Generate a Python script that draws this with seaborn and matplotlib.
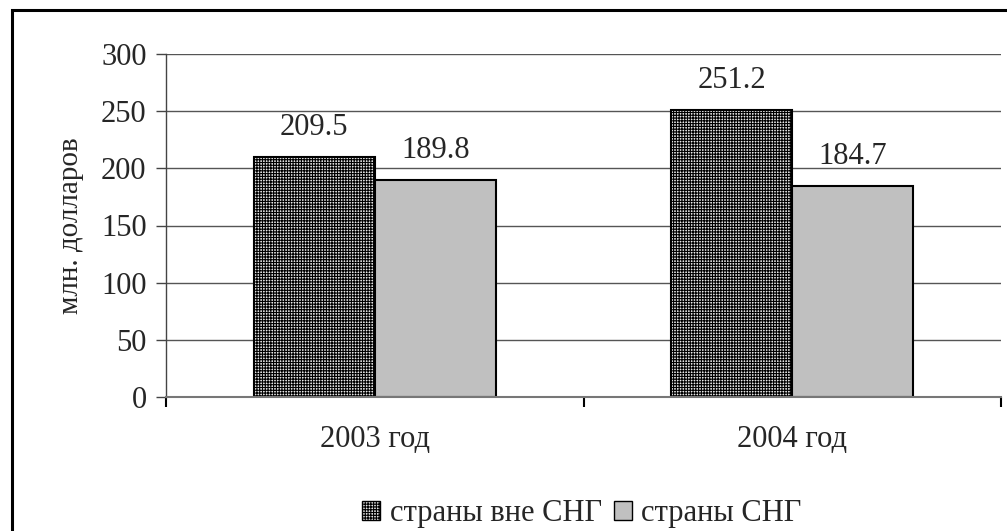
import matplotlib
matplotlib.use("Agg")
import matplotlib.pyplot as plt
import seaborn as sns
import pandas as pd
from matplotlib.patches import Rectangle, Patch

years = ["2003 год", "2004 год"]
series = ["страны вне СНГ", "страны СНГ"]
non_cis = [209.5, 251.2]
cis = [189.8, 184.7]
yticks = [0, 50, 100, 150, 200, 250, 300]

df = pd.DataFrame({
    "year": years * 2,
    "group": [series[0]] * 2 + [series[1]] * 2,
    "value": non_cis + cis,
})

sns.set_theme(style="white")
plt.rcParams['font.family'] = ['Liberation Serif', 'DejaVu Serif']
plt.rcParams['hatch.linewidth'] = 0.8

FS = 22

fig = plt.figure(figsize=(10.07, 5.31), dpi=100)
ax = fig.add_axes([166/1007, 1 - 397/531, (1001 - 166)/1007, (397 - 54)/531])

sns.barplot(data=df, x="year", y="value", hue="group", hue_order=series,
            palette=["white", "#c0c0c0"], width=0.58, saturation=1,
            edgecolor="black", linewidth=1.5, ax=ax, legend=False)

for bar in ax.containers[0]:
    bar.set_hatch("++++++")
    bar.set_facecolor("#e8e8e8")

for cont in ax.containers:
    ax.bar_label(cont, fmt="%.1f", padding=11, fontsize=FS)

ax.set_ylim(0, 300)
ax.set_xlim(-0.5, 1.5)
ax.set_yticks(yticks)
ax.yaxis.grid(True, color="#555555", linewidth=1)
ax.set_axisbelow(True)
for s in ["top", "right"]:
    ax.spines[s].set_visible(False)
ax.spines["left"].set_color("#444444")
ax.spines["bottom"].set_color("#777777")
ax.spines["left"].set_linewidth(1)
ax.spines["bottom"].set_linewidth(1.5)

ax.tick_params(axis="y", which="major", direction="out", length=7, width=1,
               color="#444444", labelsize=FS, pad=7, left=True)
ax.set_xticks([-0.5, 0.5, 1.5], minor=True)
ax.tick_params(axis="x", which="minor", direction="out", length=7, width=1.5,
               color="black", bottom=True)
ax.tick_params(axis="x", which="major", length=0, labelsize=FS, pad=20)
ax.set_xlabel("")
ax.set_ylabel("млн. долларов", fontsize=FS - 1, labelpad=12)

handles = [Patch(facecolor="#e8e8e8", edgecolor="black", hatch="++++++", linewidth=1),
           Patch(facecolor="#c0c0c0", edgecolor="black", linewidth=1)]
fig.legend(handles, series, loc="center", bbox_to_anchor=(582/1007, 1 - 514/531),
           ncol=2, frameon=False, fontsize=FS, handlelength=0.6, handleheight=0.6,
           handletextpad=0.3, columnspacing=0.4, borderaxespad=0)

fig.patches.append(Rectangle((12/1007, -0.05), 1.1, 1 - 10/531 + 0.05,
                             transform=fig.transFigure, fill=False,
                             edgecolor="black", linewidth=2.2, zorder=10))

fig.savefig("out.png", dpi=100)
